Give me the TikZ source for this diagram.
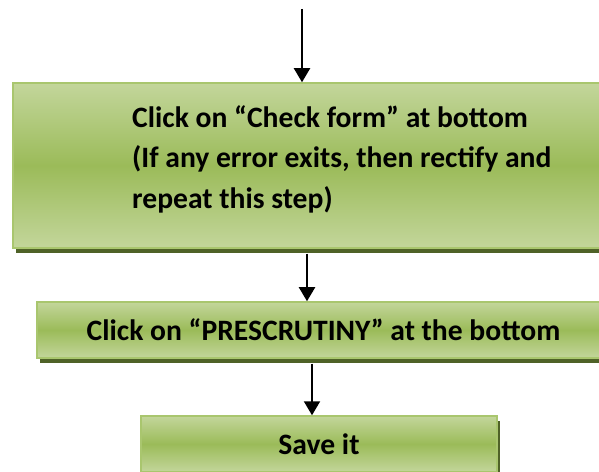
\documentclass[tikz,border=0pt]{standalone}
\usepackage{fontspec}
\setmainfont{Carlito}
\usetikzlibrary{arrows.meta,shadows}
\definecolor{boxlight}{HTML}{C3D69B}
\definecolor{boxmid}{HTML}{9BBB59}
\definecolor{boxedge}{HTML}{A9C66E}
\definecolor{boxshadow}{HTML}{4F6228}
\tikzset{
  stepbox/.style={rectangle, top color=boxlight, bottom color=boxlight, middle color=boxmid,
    draw=boxedge, line width=1.5pt, inner sep=0pt,
    drop shadow={shadow xshift=3pt, shadow yshift=-5pt, fill=boxshadow, opacity=1}},
  steptext/.style={font=\bfseries\fontsize{29.6}{40.5}\selectfont, inner sep=0pt},
  flow/.style={line width=2pt, -{Triangle[width=16pt,length=14pt]}}
}
\begin{document}
\begin{tikzpicture}[x=1pt,y=1pt]
    \useasboundingbox (0,0) rectangle (599,471);
    \clip (0,0) rectangle (599,471);

    % Boxes
    \node[stepbox, minimum width=597pt, minimum height=165pt] (check) at (311.5,305.5) {};
    \node[steptext, align=left, anchor=west] (checktext) at (132,312)
        {Click on “Check form” at bottom\\(If any error exits, then rectify and\\repeat this step)};
    \node[stepbox, steptext, minimum width=573pt, minimum height=56pt] (scrutiny) at (323.5,141)
        {Click on “PRESCRUTINY” at the bottom};
    \node[stepbox, steptext, minimum width=356pt, minimum height=56pt] (save) at (319,27) {Save it};

    % Arrows
    \coordinate (start) at (302,462);
    \coordinate (mid) at (307,0);
    \coordinate (low) at (312,0);
    \draw[flow] (start) -- (start |- check.north);
    \draw[flow, shorten <=5pt] (mid |- check.south) -- (mid |- scrutiny.north);
    \draw[flow, shorten <=5pt] (low |- scrutiny.south) -- (low |- save.north);
\end{tikzpicture}
\end{document}
